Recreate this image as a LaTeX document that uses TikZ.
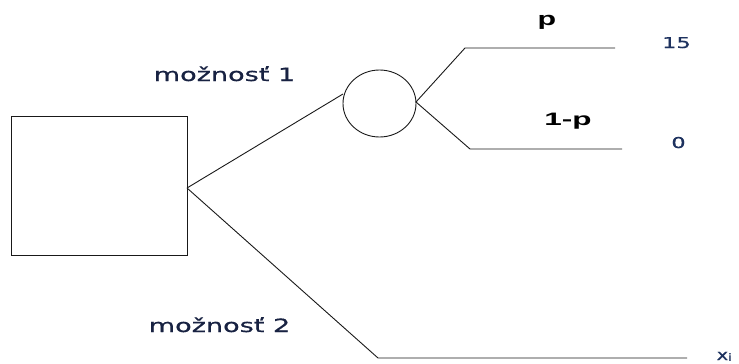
\documentclass[tikz,border=0pt]{standalone}
\usepackage{fontspec}
\setmainfont{DejaVu Sans}[FakeBold=0.6]
\newfontfamily\boldfont{Liberation Sans}
\usetikzlibrary{shapes.geometric}
\definecolor{navy}{RGB}{24,34,66}
\definecolor{numblue}{RGB}{30,50,95}
\begin{document}
\begin{tikzpicture}[x=1pt,y=-1pt,
  line/.style={draw=black!90,line width=0.9pt},
  lab/.style={inner sep=0pt,anchor=base,text=navy,font=\fontsize{18.3}{18}\selectfont},
  num/.style={inner sep=0pt,anchor=base,text=numblue,font=\fontsize{15}{15}\selectfont},
  plab/.style={inner sep=0pt,anchor=base,text=black,font=\boldfont\bfseries\fontsize{18}{18}\selectfont}]
\useasboundingbox (0,0) rectangle (739,364);
% decision box
\node[line,rectangle,minimum width=176pt,minimum height=139pt,inner sep=0pt] (box) at (99,185.5) {};
\coordinate (j) at (187,188);
% chance node
\node[line,ellipse,minimum width=73pt,minimum height=67pt,inner sep=0pt] (chance) at (379.5,103.5) {};
\coordinate (cin) at (343,94);
\coordinate (cout) at (416,102);
% branch points
\coordinate (b1) at (465,48);
\coordinate (e1) at (615,48);
\coordinate (b2) at (470,149);
\coordinate (e2) at (622,149);
\coordinate (b3) at (378,358);
\coordinate (e3) at (687,358);
\draw[line] (j) -- (cin);
\draw[line] (cout) -- (b1) -- (e1);
\draw[line] (cout) -- (b2) -- (e2);
\draw[line] (j) -- (b3) -- (e3);
% labels
\node[lab] (m1) at (224.5,81) {\scalebox{1.48}[1]{možnosť 1}};
\node[lab] (m2) at (219.5,332) {\scalebox{1.48}[1]{možnosť 2}};
\node[plab,font=\boldfont\bfseries\fontsize{19}{19}\selectfont] (p) at (547,25) {\scalebox{1.6}[1]{p}};
\node[plab] (q) at (568,125) {\scalebox{1.75}[1]{1-p}};
\node[num] (v15) at (676.5,48) {\scalebox{1.5}[1]{15}};
\node[num] (v0) at (678.5,148) {\scalebox{1.5}[1]{0}};
\node[num,anchor=base west] (xi) at (716.5,360) {\scalebox{1.3}[1]{x\raisebox{-0.8pt}{\fontsize{10}{10}\selectfont i}}};
\end{tikzpicture}
\end{document}
